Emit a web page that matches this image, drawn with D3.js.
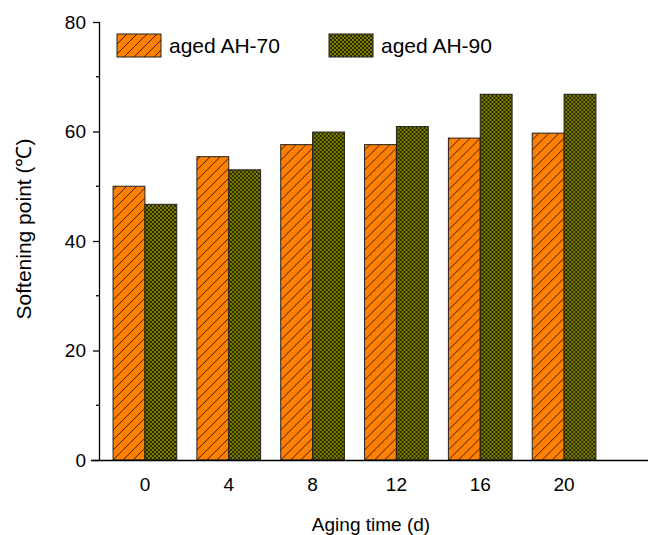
<!DOCTYPE html>
<html>
<head>
<meta charset="utf-8">
<script src="https://cdn.jsdelivr.net/npm/d3@7"></script>
<style>
  body { margin: 0; background: #fff; }
  svg { display: block; font-family: "Liberation Sans", Arial, sans-serif; }
</style>
</head>
<body>
<svg id="chart" width="648" height="535"></svg>
<script>
// data
const days = ["0", "4", "8", "12", "16", "20"];
const ah70 = [50.0, 55.4, 57.6, 57.6, 58.8, 59.7];
const ah90 = [46.7, 53.0, 59.9, 60.9, 66.8, 66.8];
const seriesNames = ["aged AH-70", "aged AH-90"];
const yTicks = [0, 20, 40, 60, 80];
const yMinor = [10, 30, 50, 70];

const svg = d3.select("#chart");

// hatch patterns
const defs = svg.append("defs");
const p1 = defs.append("pattern").attr("id", "hatch70")
    .attr("patternUnits", "userSpaceOnUse").attr("width", 10).attr("height", 10);
p1.append("rect").attr("width", 10).attr("height", 10).attr("fill", "#ff8000");
p1.append("path").attr("d", "M-1,1 L1,-1 M0,10 L10,0 M9,11 L11,9")
    .attr("stroke", "#2a1500").attr("stroke-width", 0.9);

const p2 = defs.append("pattern").attr("id", "hatch90")
    .attr("patternUnits", "userSpaceOnUse").attr("width", 4).attr("height", 4);
p2.append("rect").attr("width", 4).attr("height", 4).attr("fill", "#808000");
p2.append("path").attr("d", "M0,0 L4,4 M4,0 L0,4")
    .attr("stroke", "#1e1e00").attr("stroke-width", 0.9);

// scales
const x = d3.scaleBand().domain(days).range([103, 606])
    .paddingInner(0.24).paddingOuter(0.12);
const xs = d3.scaleBand().domain(seriesNames).range([0, x.bandwidth()]);
const y = d3.scaleLinear().domain([0, 80]).range([460, 22]);

const fills = ["url(#hatch70)", "url(#hatch90)"];
const rows = days.map((d, i) => ({ day: d, vals: [ah70[i], ah90[i]] }));

// bars
const groups = svg.selectAll("g.grp").data(rows).enter().append("g")
    .attr("class", "grp")
    .attr("transform", d => `translate(${x(d.day)},0)`);

groups.selectAll("rect")
    .data(d => d.vals.map((v, k) => ({ v, k })))
    .enter().append("rect")
    .attr("x", d => xs(seriesNames[d.k]))
    .attr("y", d => y(d.v))
    .attr("width", xs.bandwidth())
    .attr("height", d => y(0) - y(d.v))
    .attr("fill", d => fills[d.k])
    .attr("stroke", "#222")
    .attr("stroke-width", 1);

// y axis
const yAxis = svg.append("g").attr("transform", "translate(100,0)")
    .call(d3.axisLeft(y).tickValues(yTicks).tickSize(7).tickPadding(7));
yAxis.select(".domain").attr("stroke-width", 1.3).attr("d", `M-0.5,${y(80)}V${y(0)}`);
yAxis.selectAll("text").attr("font-size", 19).attr("fill", "#000")
    .attr("font-family", "Liberation Sans, Arial, sans-serif");
yAxis.selectAll(".tick line").attr("stroke-width", 1.3);
svg.append("g").selectAll("line").data(yMinor).enter().append("line")
    .attr("x1", 96).attr("x2", 100)
    .attr("y1", d => y(d)).attr("y2", d => y(d))
    .attr("stroke", "#000").attr("stroke-width", 1.3);

// x axis: long baseline, no ticks
svg.append("line").attr("x1", 91).attr("x2", 648)
    .attr("y1", y(0) + 0.5).attr("y2", y(0) + 0.5)
    .attr("stroke", "#000").attr("stroke-width", 1.3);
svg.append("g").selectAll("text").data(days).enter().append("text")
    .attr("x", d => x(d) + x.bandwidth() / 2)
    .attr("y", 491)
    .attr("text-anchor", "middle")
    .attr("font-size", 19)
    .text(d => d);

// axis titles
svg.append("text").attr("x", 371).attr("y", 531)
    .attr("text-anchor", "middle").attr("font-size", 19)
    .text("Aging time (d)");
svg.append("text")
    .attr("transform", "translate(31,229) rotate(-90)")
    .attr("text-anchor", "middle").attr("font-size", 21)
    .text("Softening point (\u2103)");

// legend
const leg = svg.append("g").selectAll("g").data(seriesNames).enter().append("g")
    .attr("transform", (d, i) => `translate(${i === 0 ? 117 : 329},34)`);
leg.append("rect").attr("width", 44).attr("height", 23)
    .attr("fill", (d, i) => fills[i]).attr("stroke", "#222").attr("stroke-width", 1);
leg.append("text").attr("x", 52).attr("y", 19)
    .attr("font-size", 21).text(d => d);
</script>
</body>
</html>
